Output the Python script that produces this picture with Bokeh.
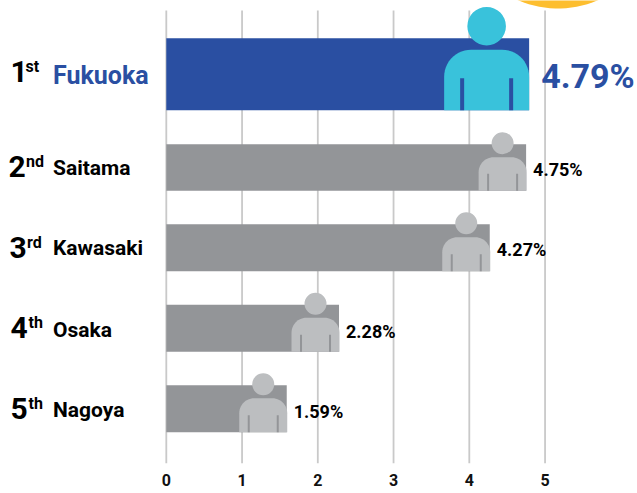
import numpy as np
from bokeh.plotting import figure
from bokeh.models import Range1d, FixedTicker
from bokeh.core.properties import value
from bokeh.embed import file_html
from bokeh.resources import INLINE

cities = ["Fukuoka", "Saitama", "Kawasaki", "Osaka", "Nagoya"]
values = [4.79, 4.75, 4.27, 2.28, 1.59]
ranks = ["1", "2", "3", "4", "5"]
suffixes = ["st", "nd", "rd", "th", "th"]
value_labels = ["4.79%", "4.75%", "4.27%", "2.28%", "1.59%"]
ticks = [0, 1, 2, 3, 4, 5]

BLUE, GREY, CYAN, LGREY, GRID = "#2a4fa2", "#939598", "#39c2db", "#bcbec0", "#c9c9c9"
X0, UNIT = 165.8, 75.75
W, H, FRAME_H = 637, 493, 463
tops = [37.7, 143.7, 223.7, 304.2, 384.7]
bottoms = [109.7, 190.2, 270.7, 351.2, 431.7]
FONT = "Roboto"
FONT2 = "Roboto"
BASE_SHIFT = 0.41  # baseline correction, in em

def px(x):
    return (np.asarray(x, dtype=float) - X0) / UNIT

p = figure(width=W, height=H, output_backend="svg", toolbar_location=None,
           x_range=Range1d(px(0), px(W)), y_range=Range1d(FRAME_H, 0),
           min_border_left=0, min_border_right=0, min_border_top=0, min_border_bottom=H - FRAME_H,
           outline_line_color=None, background_fill_color="white", border_fill_color="white")
p.margin = (0, 0, 0, 0)
p.yaxis.visible = False
p.grid.visible = False
ax = p.xaxis[0]
ax.ticker = FixedTicker(ticks=ticks)
ax.axis_line_color = None
ax.major_tick_line_color = None
ax.minor_tick_line_color = None
ax.major_label_standoff = 4
ax.major_label_text_font = FONT
ax.major_label_text_font_style = "bold"
ax.major_label_text_font_size = "16px"
ax.major_label_text_color = "#111111"

# sun peeking in at the top
t = np.linspace(0, np.pi, 60)
p.patch(px(557.5 + 101 * np.cos(t)), -93 + 101 * np.sin(t), color="#fdbe2f", line_width=0)

p.segment(ticks, [10] * 6, ticks, [FRAME_H] * 6, line_color=GRID, line_width=1.8)

colors = [BLUE if i == 0 else GREY for i in range(5)]
p.quad(left=[0] * 5, right=values, top=tops, bottom=bottoms, fill_color=colors, line_width=0, line_color=None)

def body(right, bottom, w, h, r):
    a = np.linspace(0, np.pi / 2, 14)
    l = right - w
    top = bottom - h
    xs = np.r_[l, l + r - r * np.cos(a), right - r + r * np.sin(a), right]
    ys = np.r_[bottom, top + r - r * np.sin(a), top + r - r * np.cos(a), bottom]
    return xs, ys

for i, v in enumerate(values):
    big = i == 0
    right = X0 + v * UNIT + (0 if big else 0.5)
    w, h, r, hr = (85, 60.5, 27, 19.3) if big else (48, bottoms[i] - tops[i] - 13, 15, 11)
    fill = CYAN if big else LGREY
    arm = BLUE if big else GREY
    bx, by = body(right, bottoms[i], w, h, r)
    p.patch(px(bx), by, color=fill, line_width=0)
    head_y = tops[i] - (12 if big else 1)
    p.scatter(px([right - w / 2]), [head_y], size=2 * hr, color=fill, line_width=0)
    inset = 18 if big else 9.5
    arm_h = 32 if big else 17
    p.segment(px([right - w + inset, right - inset]), [bottoms[i] - arm_h] * 2,
              px([right - w + inset, right - inset]), [bottoms[i]] * 2,
              line_color=arm, line_width=4 if big else 2)

def label(x, base, s, size, color, font=FONT2):
    p.text([x], [base - BASE_SHIFT * size], text=[s], text_font=value(font), text_font_style="bold",
           text_font_size=f"{size}px", text_color=color, text_baseline="alphabetic")

base_rank = [83, 178, 259, 339, 420]
base_city = [85, 176.5, 256.5, 338, 418.5]
rank_x = [10, 8, 9, 10, 10]
sup_x = [25, 25.5, 26.5, 28, 28]
city_x = [52.5] * 5
for i in range(5):
    col = BLUE if i == 0 else "#000000"
    label(float(px(rank_x[i])), base_rank[i], ranks[i], 30, "#000000")
    label(float(px(sup_x[i])), base_rank[i] - 10, suffixes[i], 16, "#000000")
    label(float(px(city_x[i])), base_city[i], cities[i], 25 if i == 0 else 21, col)
    gap = 12 if i == 0 else 7
    label(values[i] + gap / UNIT, 89.5 if i == 0 else base_city[i], value_labels[i], 34 if i == 0 else 18, col, FONT)

open("out.html", "w").write(file_html(p, INLINE))
